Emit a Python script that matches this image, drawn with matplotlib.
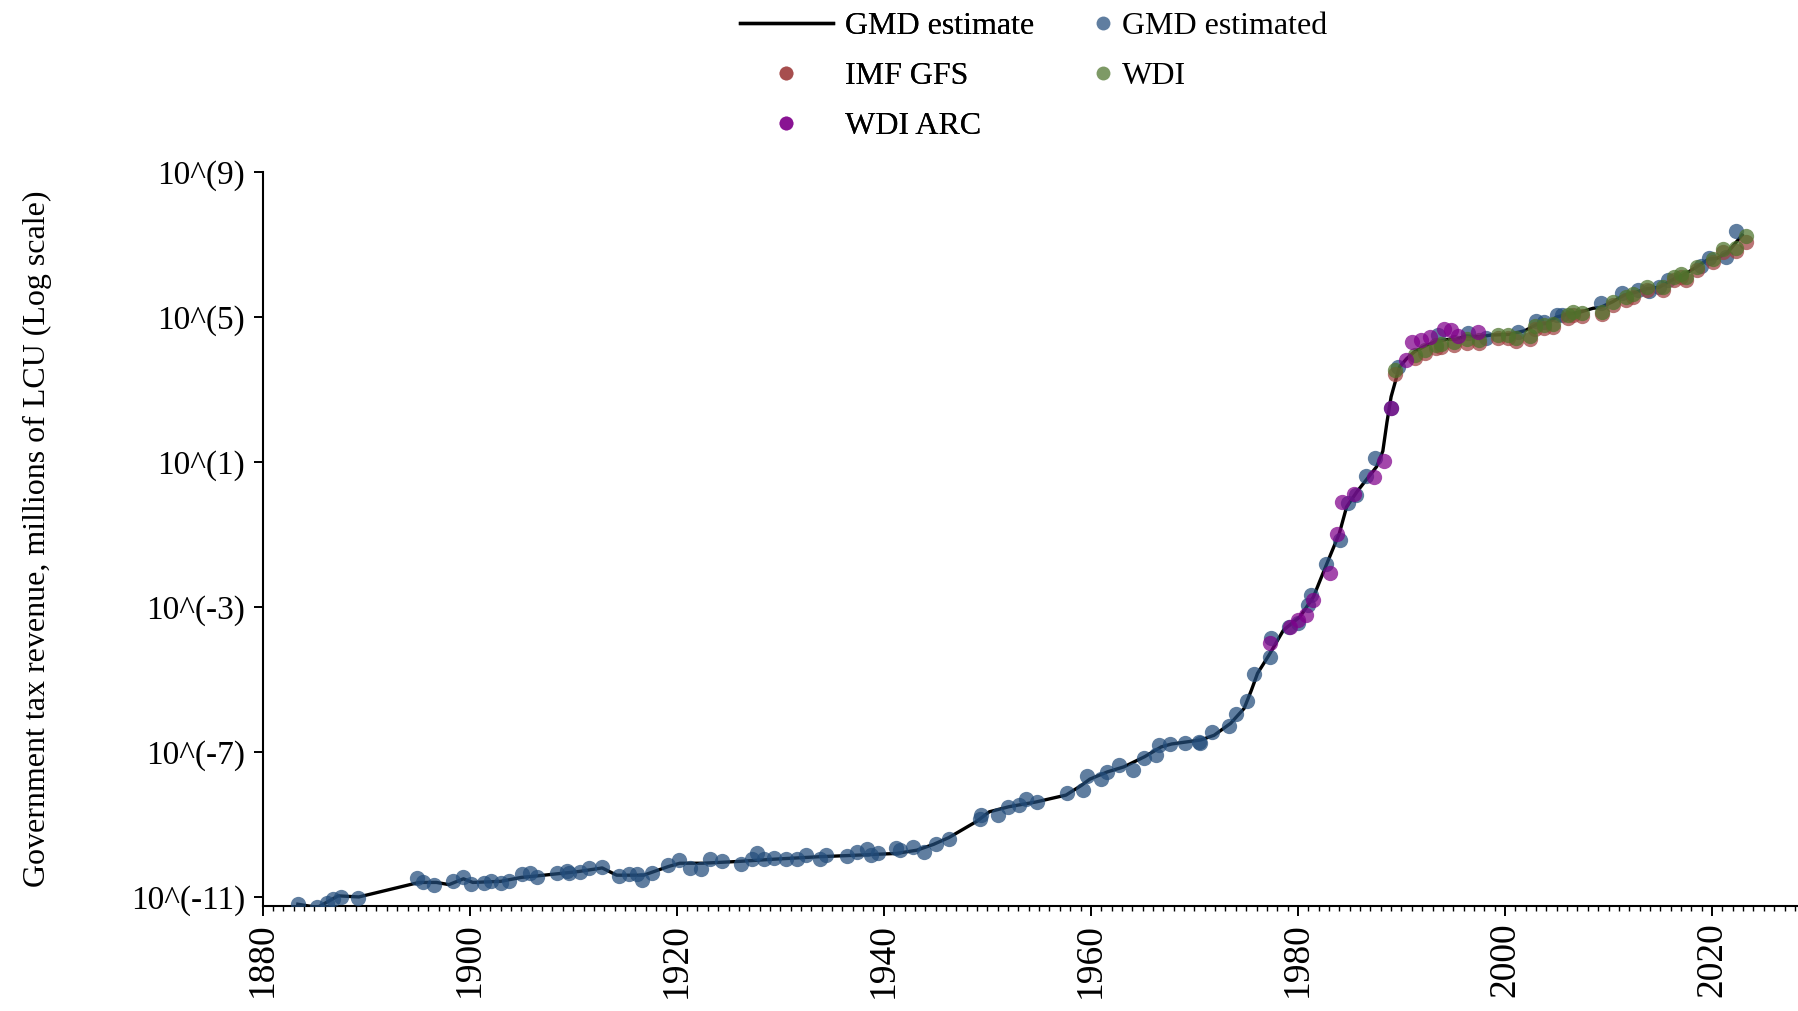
# Government tax revenue (millions of LCU, log scale) - GMD estimate vs sources
import matplotlib

matplotlib.use("Agg")
import matplotlib.pyplot as plt
import numpy as np
from matplotlib.lines import Line2D
from matplotlib.ticker import NullLocator

plt.rcParams["font.family"] = ["Liberation Serif", "DejaVu Serif"]

# values are log10(millions of LCU)
line_years = [1883.4, 1885.3, 1887.3, 1889.3, 1895.1, 1896.8, 1898.0, 1899.4, 1900.3,
              1903.0, 1905.0, 1906.5, 1908.5, 1910.5, 1912.8, 1914.2, 1916.8, 1919.2,
              1920.3, 1922.5, 1926.0, 1929.3, 1933.8, 1936.4, 1941.2, 1943.2, 1944.8,
              1946.3, 1949.0, 1950.2, 1952.1, 1954.7, 1957.6, 1959.1, 1959.9, 1961.6,
              1963.2, 1965.2, 1966.8, 1967.8, 1970.6, 1971.9, 1973.5, 1974.8, 1975.5,
              1976.1, 1977.2, 1978.6, 1980.2, 1981.5, 1982.8, 1984.0, 1984.7, 1985.7,
              1987.6, 1988.2, 1988.6, 1989.0, 1989.8, 1990.5, 1991.3, 1992.3, 1993.4,
              1994.4, 1995.2, 1996.3, 1997.5, 1998.6, 2000.4, 2001.9, 2003.1, 2004.0,
              2005.0, 2006.1, 2007.2, 2008.5, 2009.2, 2010.4, 2011.5, 2012.6, 2013.7,
              2014.9, 2015.7, 2016.5, 2017.2, 2018.5, 2019.7, 2020.5, 2021.5, 2022.9]
line_log = [-11.20, -11.29, -10.97, -11.00, -10.60, -10.60, -10.66, -10.50, -10.60,
            -10.57, -10.46, -10.42, -10.36, -10.30, -10.20, -10.40, -10.40, -10.16,
            -10.07, -10.07, -10.02, -9.96, -9.89, -9.86, -9.80, -9.71, -9.55,
            -9.36, -8.91, -8.65, -8.51, -8.38, -8.19, -7.92, -7.75, -7.55,
            -7.41, -7.13, -6.86, -6.78, -6.67, -6.54, -6.21, -5.80, -5.30,
            -4.83, -4.33, -3.64, -3.27, -2.72, -1.80, -0.97, -0.24, 0.18,
            0.87, 1.30, 2.10, 2.80, 3.62, 3.85, 4.05, 4.20, 4.33,
            4.38, 4.38, 4.48, 4.45, 4.50, 4.52, 4.62, 4.80, 4.82,
            5.00, 5.08, 5.13, 5.24, 5.26, 5.42, 5.60, 5.68, 5.78,
            5.82, 5.95, 6.08, 6.15, 6.38, 6.60, 6.62, 6.78, 7.26]

gmd_years = [1883.4, 1885.3, 1886.2, 1886.8, 1887.6, 1889.2, 1894.9, 1895.5, 1896.6,
             1898.4, 1899.4, 1900.1, 1901.4, 1902.1, 1903.0, 1903.8, 1905.1, 1905.8,
             1906.5, 1908.4, 1909.4, 1909.6, 1910.7, 1911.5, 1912.8, 1914.4, 1915.4,
             1916.2, 1916.6, 1917.6, 1919.2, 1920.2, 1921.3, 1922.3, 1923.2, 1924.4,
             1926.2, 1927.3, 1927.8, 1928.4, 1929.4, 1930.6, 1931.6, 1932.5, 1933.8,
             1934.4, 1936.4, 1937.4, 1938.4, 1938.8, 1939.4, 1941.2, 1941.6, 1942.8,
             1943.9, 1945.0, 1946.3, 1949.3, 1949.4, 1951.0, 1952.0, 1953.1, 1953.7,
             1954.8, 1957.7, 1959.2, 1959.6, 1961.0, 1961.6, 1962.7, 1964.1, 1965.1,
             1966.3, 1966.6, 1967.6, 1969.1, 1970.4, 1970.5, 1971.7, 1973.3, 1974.0,
             1975.1, 1975.8, 1977.3, 1977.4, 1979.1, 1980.0, 1981.0, 1981.3, 1982.7,
             1984.1, 1984.8, 1985.6, 1986.6, 1987.4, 1989.0, 1989.7, 1993.5, 1996.4,
             1998.2, 2001.3, 2003.0, 2003.8, 2005.0, 2005.5, 2009.3, 2011.3, 2012.8,
             2013.9, 2014.9, 2015.7, 2018.9, 2019.7, 2021.3, 2022.3]
gmd_log = [-11.20, -11.27, -11.18, -11.07, -11.00, -11.02, -10.49, -10.58, -10.67,
           -10.57, -10.44, -10.63, -10.61, -10.56, -10.62, -10.56, -10.38, -10.33,
           -10.46, -10.35, -10.29, -10.34, -10.31, -10.21, -10.17, -10.42, -10.38,
           -10.37, -10.52, -10.33, -10.12, -9.97, -10.21, -10.24, -9.96, -10.00,
           -10.10, -9.96, -9.78, -9.96, -9.92, -9.94, -9.96, -9.83, -9.96,
           -9.84, -9.87, -9.77, -9.69, -9.83, -9.80, -9.65, -9.71, -9.62,
           -9.76, -9.55, -9.39, -8.85, -8.74, -8.74, -8.51, -8.45, -8.30,
           -8.37, -8.13, -8.05, -7.67, -7.76, -7.55, -7.37, -7.50, -7.16,
           -7.09, -6.81, -6.78, -6.74, -6.72, -6.76, -6.44, -6.29, -5.96,
           -5.60, -4.85, -4.38, -3.87, -3.55, -3.43, -2.95, -2.67, -1.82,
           -1.14, -0.13, 0.09, 0.61, 1.10, 2.50, 3.63, 4.50, 4.55,
           4.41, 4.59, 4.90, 4.85, 5.05, 5.05, 5.38, 5.65, 5.74,
           5.73, 5.82, 6.02, 6.41, 6.62, 6.66, 7.37]

wdi_years = [1989.4, 1991.3, 1992.3, 1993.3, 1993.8, 1995.1, 1996.3, 1997.5, 1999.3,
             2000.3, 2001.1, 2002.4, 2002.9, 2003.8, 2004.6, 2006.1, 2006.6, 2007.4,
             2009.4, 2010.4, 2011.7, 2012.4, 2013.7, 2015.3, 2016.3, 2017.0, 2017.5,
             2018.5, 2020.1, 2021.1, 2022.3, 2023.3]
wdi_log = [3.54, 3.94, 4.10, 4.23, 4.25, 4.32, 4.38, 4.37, 4.51,
           4.49, 4.41, 4.48, 4.74, 4.78, 4.80, 5.05, 5.14, 5.12,
           5.15, 5.42, 5.56, 5.63, 5.82, 5.82, 6.09, 6.19, 6.11,
           6.39, 6.59, 6.87, 6.89, 7.23]

imf_years = wdi_years
imf_log = [3.44, 3.86, 4.02, 4.15, 4.17, 4.22, 4.28, 4.27, 4.43,
           4.41, 4.33, 4.40, 4.66, 4.70, 4.72, 4.97, 5.06, 5.04,
           5.07, 5.34, 5.48, 5.55, 5.74, 5.74, 6.01, 6.11, 6.03,
           6.31, 6.51, 6.79, 6.81, 7.08]

arc_years = [1977.3, 1979.2, 1980.0, 1980.8, 1981.5, 1983.1, 1983.8, 1984.3, 1985.4,
             1987.3, 1988.3, 1989.0, 1990.4, 1991.0, 1991.9, 1992.8, 1994.1, 1994.8,
             1995.5, 1997.4]
arc_log = [-3.99, -3.55, -3.35, -3.22, -2.81, -2.06, -0.99, -0.10, 0.11,
           0.58, 1.04, 2.50, 3.81, 4.32, 4.36, 4.44, 4.66, 4.64,
           4.47, 4.58]

ytick_exp = [9, 5, 1, -3, -7, -11]
xtick_years = list(range(1880, 2021, 20))

BLUE = "#234d7b"
RED = "#a04040"
GREEN = "#4d732b"
PURPLE = "#80008b"
ALPHA = 0.72
MS = 11

W, H = 1798, 1011
fig = plt.figure(figsize=(W / 100, H / 100), dpi=100)
ax = fig.add_axes([262.6 / W, 105 / H, (W - 262.6) / W, 734 / H])

ax.plot(line_years, 10.0 ** np.array(line_log), color="black", lw=2.4, zorder=2)
for yrs, vals, col in [(gmd_years, gmd_log, BLUE), (imf_years, imf_log, RED),
                       (wdi_years, wdi_log, GREEN), (arc_years, arc_log, PURPLE)]:
    ax.scatter(yrs, 10.0 ** np.array(vals), s=MS ** 2, color=col, alpha=ALPHA,
               linewidths=0, zorder=3)

ax.set_yscale("log")
ax.set_ylim(10 ** -11.25, 1e9)
ax.set_xlim(1880, 2028.3)
ax.set_yticks([10.0 ** k for k in ytick_exp])
ax.set_yticklabels([f"10^({k})" for k in ytick_exp], fontsize=24)
ax.yaxis.set_minor_locator(NullLocator())
ax.set_xticks(xtick_years)
ax.set_xticklabels([str(y) for y in xtick_years], rotation=90, fontsize=27)
ax.set_xticks(range(1880, 2029), minor=True)
ax.tick_params(axis="y", length=6.5, width=1.4, pad=6, color="black")
ax.tick_params(axis="x", which="major", length=7, width=1.4, pad=5)
ax.tick_params(axis="x", which="minor", length=3.5, width=1.0)
for side in ("top", "right"):
    ax.spines[side].set_visible(False)
for side in ("left", "bottom"):
    ax.spines[side].set_linewidth(1.5)

fig.text(37 / W, 1 - 539 / H, "Government tax revenue, millions of LCU (Log scale)",
         rotation=90, ha="center", va="center", fontsize=23)


def dot(col):
    return Line2D([], [], ls="none", marker="o", markersize=10, color=col,
                  alpha=ALPHA, markeredgewidth=0)


leg1 = fig.legend(
    handles=[Line2D([], [], color="black", lw=2.4), dot(RED), dot(PURPLE)],
    labels=["GMD estimate", "IMF GFS", "WDI ARC"],
    loc="upper left", bbox_to_anchor=(740 / W, 1 - 12 / H), frameon=False,
    fontsize=23, handlelength=2.9, handletextpad=0.4, borderpad=0,
    borderaxespad=0, labelspacing=0.64)
fig.add_artist(leg1)
fig.legend(
    handles=[dot(BLUE), dot(GREEN)], labels=["GMD estimated", "WDI"],
    loc="upper left", bbox_to_anchor=(1093 / W, 1 - 12 / H), frameon=False,
    fontsize=23, handlelength=0.6, handletextpad=0.3, borderpad=0,
    borderaxespad=0, labelspacing=0.64)

fig.savefig("out.png", dpi=100, facecolor="white")
